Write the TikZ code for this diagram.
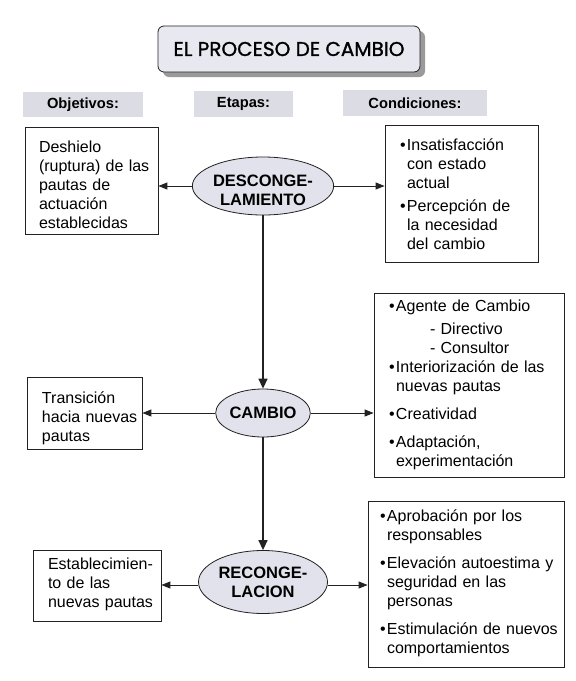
\documentclass[tikz,border=0pt]{standalone}
\usepackage{fontspec}
\setmainfont{Liberation Sans}
\newfontfamily\titlefont[FakeBold=1.2]{Poppins}
\usetikzlibrary{shapes.geometric,shadows,arrows.meta}
\definecolor{ellfill}{HTML}{E2E2EC}
\definecolor{hdrfill}{HTML}{DCDCE4}
\definecolor{titfill}{HTML}{E8E8F0}
\definecolor{shadowgray}{HTML}{9A9A9A}
\definecolor{linecol}{HTML}{222222}
\newcommand\bul{\makebox[7pt][l]{•}}
\newcommand\ind{\hspace*{7pt}}
\newcommand\topst[1]{\rule{0pt}{#1}}
\newcommand\botst[1]{\rule[-#1]{0pt}{#1}\par}
\begin{document}
\begin{tikzpicture}[x=1pt,y=-1pt,
  box/.style={draw=linecol, line width=0.8pt, inner sep=0pt, align=left,
    font=\fontsize{16}{19}\selectfont},
  ell/.style={ellipse, draw=linecol, line width=0.8pt, fill=ellfill, inner sep=0pt,
    align=center, font=\bfseries\fontsize{16.5}{19}\selectfont},
  hdr/.style={fill=hdrfill, inner sep=0pt, font=\bfseries\fontsize{14.7}{17}\selectfont},
  harrow/.style={draw=linecol, line width=0.9pt, -{Triangle[length=9pt,width=7pt]}},
  varrow/.style={draw=linecol, line width=1.4pt, -{Triangle[length=10pt,width=9pt]}},
]
\useasboundingbox (0,0) rectangle (576,681);
\fill[white] (0,0) rectangle (576,681);

% title
\node[fill=titfill, draw=linecol, line width=0.8pt, rounded corners=6pt,
  minimum width=262pt, minimum height=46pt,
  drop shadow={shadow xshift=5pt, shadow yshift=-5pt, fill=shadowgray, opacity=1},
  font=\titlefont\fontsize{20}{22}\selectfont] (title) at (289,49) {EL PROCESO DE CAMBIO};

% headers
\node[hdr, minimum width=120pt, minimum height=25pt] (hobj) at (83,104.5) {Objetivos:};
\node[hdr, minimum width=99pt, minimum height=26pt] (heta) at (243.5,104) {Etapas:};
\node[hdr, minimum width=144pt, minimum height=26pt] (hcon) at (415,103) {Condiciones:};

% stages
\node[ell, minimum width=140pt, minimum height=58pt] (e1) at (263,186)
  {\topst{21pt}DESCONGE-\\LAMIENTO};
\node[ell, minimum width=91pt, minimum height=48pt] (e2) at (263,413) {CAMBIO};
\node[ell, minimum width=129pt, minimum height=63pt] (e3) at (263,582)
  {RECONGE-\\LACION};

% objectives
\node[box, text width=133pt, minimum height=107pt] (l1) at (91.5,180.5)
  {\parindent0pt\leftskip14pt\noindent\topst{24pt}Deshielo\\(ruptura) de las\\pautas de\\actuación\\establecidas\botst{4pt}};
\node[box, text width=115pt, minimum height=72pt] (l2) at (84.5,413)
  {\parindent0pt\leftskip15pt\noindent\topst{22pt}Transición\\hacia nuevas\\pautas\botst{4pt}};
\node[box, text width=128pt, minimum height=71pt] (l3) at (97,585.5)
  {\parindent0pt\leftskip15pt\noindent\topst{13pt}Establecimien-\\to de las\\nuevas pautas\botst{7pt}};

% conditions
\node[box, text width=153pt, minimum height=137pt] (r1) at (461.5,193.5)
  {\parindent0pt\leftskip15pt\noindent\topst{16pt}\bul Insatisfacción\\\ind con estado\\\ind actual\\[4pt]\bul Percepción de\\\ind la necesidad\\\ind del cambio\botst{4pt}};
\node[box, text width=190pt, minimum height=184pt] (r2) at (469,385)
  {\parindent0pt\leftskip15pt\noindent\topst{13pt}\bul Agente de Cambio\\[4pt]\hspace*{41pt}- Directivo\\\hspace*{41pt}- Consultor\\\bul Interiorización de las\\\ind nuevas pautas\\[9pt]\bul Creatividad\\[9pt]\bul Adaptación,\\\ind experimentación\botst{6pt}};
\node[box, text width=196pt, minimum height=166pt] (r3) at (466,584)
  {\parindent0pt\leftskip12pt\noindent\topst{13pt}\bul Aprobación por los\\\ind responsables\\[9pt]\bul Elevación autoestima y\\\ind seguridad en las\\\ind personas\\[9pt]\bul Estimulación de nuevos\\\ind comportamientos\botst{7pt}};

% connectors
\draw[harrow] (e1.west) -- (e1.west -| l1.east);
\draw[harrow] (e1.east) -- (e1.east -| r1.west);
\draw[varrow] (e1.south) -- (e2.north);
\draw[harrow] (e2.west) -- (e2.west -| l2.east);
\draw[harrow] (e2.east) -- (e2.east -| r2.west);
\draw[varrow] (e2.south) -- (e3.north);
\draw[harrow] ([yshift=-3pt]e3.west) -- ([yshift=-3pt]e3.west -| l3.east);
\draw[harrow] ([yshift=-3pt]e3.east) -- ([yshift=-3pt]e3.east -| r3.west);
\end{tikzpicture}
\end{document}
